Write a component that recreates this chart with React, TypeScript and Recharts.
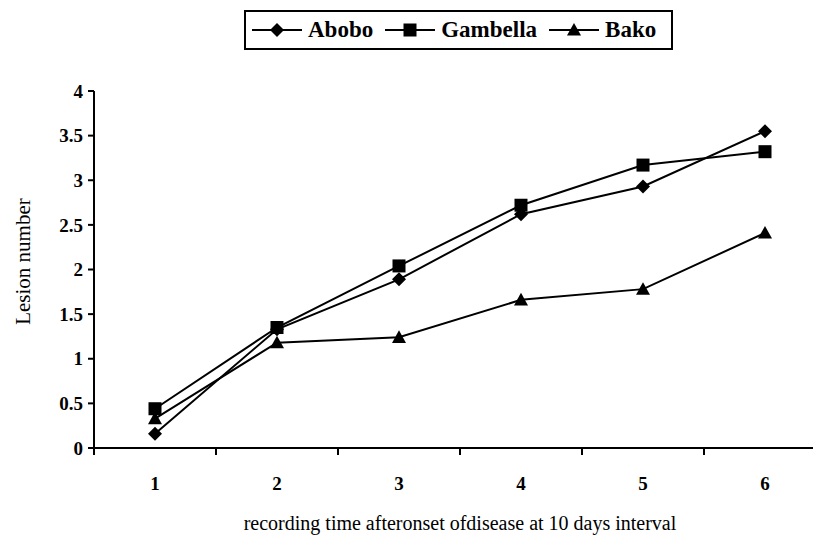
import { LineChart, Line, XAxis, YAxis } from "recharts";

const categories = [1, 2, 3, 4, 5, 6];
const abobo = [0.16, 1.33, 1.89, 2.62, 2.93, 3.55];
const gambella = [0.44, 1.35, 2.04, 2.72, 3.17, 3.32];
const bako = [0.33, 1.18, 1.24, 1.66, 1.78, 2.41];
const yTicks = [0, 0.5, 1, 1.5, 2, 2.5, 3, 3.5, 4];
// label ticks at the categories, tick marks halfway between them
const xTicks = [0.5, 1, 1.5, 2, 2.5, 3, 3.5, 4, 4.5, 5, 5.5, 6, 6.5];

const data = categories.map((c, i) => ({
  x: c,
  Abobo: abobo[i],
  Gambella: gambella[i],
  Bako: bako[i],
}));

const FONT = '"Liberation Serif", "Times New Roman", serif';

const Diamond = ({ cx, cy, s = 7 }: any) => (
  <path d={`M${cx},${cy - s}L${cx + s},${cy}L${cx},${cy + s}L${cx - s},${cy}Z`} fill="#000" />
);
const Square = ({ cx, cy, s = 6.5 }: any) => (
  <rect x={cx - s} y={cy - s} width={s * 2} height={s * 2} fill="#000" />
);
const Triangle = ({ cx, cy, s = 7 }: any) => (
  <path d={`M${cx},${cy - s}L${cx + s},${cy + s * 0.8}L${cx - s},${cy + s * 0.8}Z`} fill="#000" />
);

const series = [
  { key: "Abobo", Marker: Diamond },
  { key: "Gambella", Marker: Square },
  { key: "Bako", Marker: Triangle },
];

const XTick = ({ x, y, payload }: any) => {
  const v = payload.value;
  if (Number.isInteger(v)) {
    return (
      <text x={x} y={y + 42} textAnchor="middle" fontFamily={FONT} fontWeight="bold" fontSize={19} fill="#000">
        {v}
      </text>
    );
  }
  return <line x1={x} y1={y} x2={x} y2={y + 7} stroke="#000" strokeWidth={2} />;
};

const LegendBox = () => (
  <div
    style={{
      position: "absolute",
      left: 244,
      top: 10,
      width: 429,
      height: 40,
      boxSizing: "border-box",
      border: "2px solid #000",
      display: "flex",
      alignItems: "center",
      paddingLeft: 6,
      gap: 12,
      fontFamily: FONT,
      fontWeight: "bold",
      fontSize: 23,
      background: "#fff",
    }}
  >
    {series.map(({ key, Marker }) => (
      <div key={key} style={{ display: "flex", alignItems: "center", gap: 6 }}>
        <svg width={50} height={20}>
          <line x1={0} y1={10} x2={50} y2={10} stroke="#000" strokeWidth={2} />
          <Marker cx={25} cy={10} />
        </svg>
        <span>{key}</span>
      </div>
    ))}
  </div>
);

export default function App() {
  return (
    <div style={{ position: "absolute", left: 0, top: 0, width: 813, height: 540, overflow: "hidden", background: "#fff" }}>
      <LineChart width={826} height={540} data={data} margin={{ top: 91, right: 0, bottom: 0, left: 0 }}>
        <XAxis
          dataKey="x"
          type="number"
          domain={[0.5, 6.5]}
          ticks={xTicks}
          interval={0}
          height={92}
          tickSize={0}
          tickMargin={0}
          tickLine={false}
          tick={<XTick />}
          axisLine={{ stroke: "#000", strokeWidth: 2 }}
          label={{
            value: "recording time afteronset ofdisease at 10 days interval",
            position: "insideBottom",
            offset: 10,
            fill: "#000",
            fontFamily: FONT,
            fontSize: 20,
          }}
        />
        <YAxis
          domain={[0, 4]}
          ticks={yTicks}
          interval={0}
          width={94}
          tickSize={6}
          tickMargin={5}
          tickLine={{ stroke: "#000", strokeWidth: 2 }}
          axisLine={{ stroke: "#000", strokeWidth: 2 }}
          tick={{ fill: "#000", fontFamily: FONT, fontWeight: "bold", fontSize: 19 }}
          label={({ viewBox }: any) => (
            <text
              x={viewBox.x + 30}
              y={viewBox.y + viewBox.height / 2 - 8}
              transform={`rotate(-90, ${viewBox.x + 30}, ${viewBox.y + viewBox.height / 2 - 8})`}
              textAnchor="middle"
              fontFamily={FONT}
              fontSize={21}
              fill="#000"
            >
              Lesion number
            </text>
          )}
        />
        {series.map(({ key, Marker }) => (
          <Line
            key={key}
            dataKey={key}
            stroke="#000"
            strokeWidth={2}
            isAnimationActive={false}
            dot={(p: any) => <Marker key={`${key}-${p.index}`} cx={p.cx} cy={p.cy} />}
            activeDot={false}
          />
        ))}
      </LineChart>
      <LegendBox />
    </div>
  );
}
